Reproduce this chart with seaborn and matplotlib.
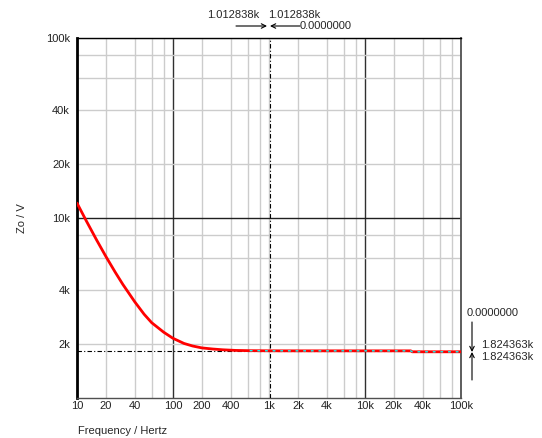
import matplotlib
matplotlib.use("Agg")
import matplotlib.pyplot as plt
import numpy as np
import pandas as pd
import seaborn as sns

# ---- data ----
freq_hz = [10, 12.5, 16, 20, 25, 30, 40, 50, 60, 80, 100, 130, 160, 200, 260, 330,
           450, 630, 1000, 2000, 5000, 10000, 20000, 30000, 31000, 50000, 100000]
zo_v = [12100, 9640, 7550, 6110, 5000, 4280, 3420, 2920, 2620, 2320, 2146, 2010, 1945,
        1898, 1871, 1853, 1838, 1832, 1829, 1828, 1828, 1828, 1828, 1828, 1806, 1806, 1806]
trace2_freq_hz = [630, 1000, 2000, 5000, 10000, 20000, 30000, 31000, 50000, 100000]
trace2_zo_v = [1832, 1829, 1828, 1828, 1828, 1828, 1828, 1806, 1806, 1806]

cursor_freq_hz = 1012.838
cursor_zo_v = 1824.363
cursor_freq_text = "1.012838k"
cursor_zo_text = "1.824363k"
cursor_delta_text = "0.0000000"

x_ticks = [10, 20, 40, 100, 200, 400, 1000, 2000, 4000, 10000, 20000, 40000, 100000]
x_tick_labels = ["10", "20", "40", "100", "200", "400", "1k", "2k", "4k", "10k", "20k", "40k", "100k"]
x_minor = [60, 80, 600, 800, 6000, 8000, 60000, 80000]
y_ticks = [2000, 4000, 10000, 20000, 40000, 100000]
y_tick_labels = ["2k", "4k", "10k", "20k", "40k", "100k"]
y_minor = [6000, 8000, 60000, 80000]
dark_x = [100, 10000]
dark_y = [10000]

# ---- figure ----
sns.set_style("white")
plt.rcParams["font.family"] = ["Liberation Sans", "DejaVu Sans"]
FS = 8
plt.rcParams["font.size"] = FS

W, H = 542, 438
fig = plt.figure(figsize=(W / 100, H / 100), dpi=100)
L, R, T, B = 77, 461, 38, 398
ax = fig.add_axes([L / W, 1 - B / H, (R - L) / W, (B - T) / H])

def fx(px):
    return px / W

def fy(py):
    return 1 - py / H

df = pd.DataFrame({"f": freq_hz, "zo": zo_v})
df2 = pd.DataFrame({"f": trace2_freq_hz, "zo": trace2_zo_v})

ax.set_xscale("log")
ax.set_yscale("log")
ax.set_xlim(10, 100000)
ax.set_ylim(1000, 100000)

sns.lineplot(data=df, x="f", y="zo", ax=ax, color="#ff0000", linewidth=2.0,
             estimator=None, sort=False, zorder=4)
sns.lineplot(data=df2, x="f", y="zo", ax=ax, color="#00ffff", linewidth=1.0,
             estimator=None, sort=False, zorder=5)
ax.lines[-1].set_dashes((2, 3.5))

ax.xaxis.set_major_locator(matplotlib.ticker.FixedLocator(x_ticks))
ax.xaxis.set_major_formatter(matplotlib.ticker.FixedFormatter(x_tick_labels))
ax.xaxis.set_minor_locator(matplotlib.ticker.FixedLocator(x_minor))
ax.xaxis.set_minor_formatter(matplotlib.ticker.NullFormatter())
ax.yaxis.set_major_locator(matplotlib.ticker.FixedLocator(y_ticks))
ax.yaxis.set_major_formatter(matplotlib.ticker.FixedFormatter(y_tick_labels))
ax.yaxis.set_minor_locator(matplotlib.ticker.FixedLocator(y_minor))
ax.yaxis.set_minor_formatter(matplotlib.ticker.NullFormatter())

ax.grid(True, which="both", color="#cccccc", linewidth=1.0, zorder=0)
ax.set_axisbelow(True)
for tick, loc in zip(ax.xaxis.get_major_ticks(), x_ticks):
    if loc in dark_x:
        tick.gridline.set_color("#303030")
for tick, loc in zip(ax.yaxis.get_major_ticks(), y_ticks):
    if loc in dark_y:
        tick.gridline.set_color("#202020")

ax.tick_params(axis="x", which="both", length=0, pad=2, labelsize=FS, colors="#222222")
ax.tick_params(axis="y", which="major", length=4, width=1, color="#999999", pad=1,
               labelsize=FS, labelcolor="#222222")
ax.tick_params(axis="y", which="minor", length=0)

ax.spines["left"].set_linewidth(2.0)
ax.spines["left"].set_color("black")
ax.spines["top"].set_linewidth(1.0)
ax.spines["top"].set_color("black")
ax.spines["right"].set_linewidth(1.3)
ax.spines["right"].set_color("#505050")
ax.spines["bottom"].set_linewidth(1.0)
ax.spines["bottom"].set_color("#505050")

ax.set_xlabel("")
ax.set_ylabel("")
fig.text(fx(78), fy(431), "Frequency / Hertz", ha="left", va="center", fontsize=FS)
fig.text(fx(22), fy(218), "Zo / V", ha="center", va="center", rotation=90, fontsize=FS)

# cursors
ax.axvline(cursor_freq_hz, color="black", linewidth=0.8, dashes=(4, 2, 1, 2), zorder=3)
ax.axhline(cursor_zo_v, color="black", linewidth=0.8, dashes=(4, 2, 1, 2), zorder=3)

# top cursor readout
fig.text(fx(207), fy(15), cursor_freq_text, ha="left", va="center", fontsize=FS)
fig.text(fx(268), fy(15), cursor_freq_text, ha="left", va="center", fontsize=FS)
fig.text(fx(300), fy(26), cursor_delta_text, ha="left", va="center", fontsize=FS)
ap = dict(arrowstyle="->", color="black", lw=0.8, shrinkA=0, shrinkB=0,
          mutation_scale=8)
fig.add_artist(matplotlib.patches.FancyArrowPatch((fx(236), fy(26)), (fx(267), fy(26)),
               transform=fig.transFigure, **ap))
fig.add_artist(matplotlib.patches.FancyArrowPatch((fx(300), fy(26)), (fx(270), fy(26)),
               transform=fig.transFigure, **ap))

# right cursor readout
fig.text(fx(467), fy(313), cursor_delta_text, ha="left", va="center", fontsize=FS)
fig.text(fx(481), fy(345), cursor_zo_text, ha="left", va="center", fontsize=FS)
fig.text(fx(481), fy(357), cursor_zo_text, ha="left", va="center", fontsize=FS)
fig.add_artist(matplotlib.patches.FancyArrowPatch((fx(472), fy(322)), (fx(472), fy(352)),
               transform=fig.transFigure, **ap))
fig.add_artist(matplotlib.patches.FancyArrowPatch((fx(472), fy(380)), (fx(472), fy(352)),
               transform=fig.transFigure, **ap))

fig.savefig("out.png", dpi=100)
